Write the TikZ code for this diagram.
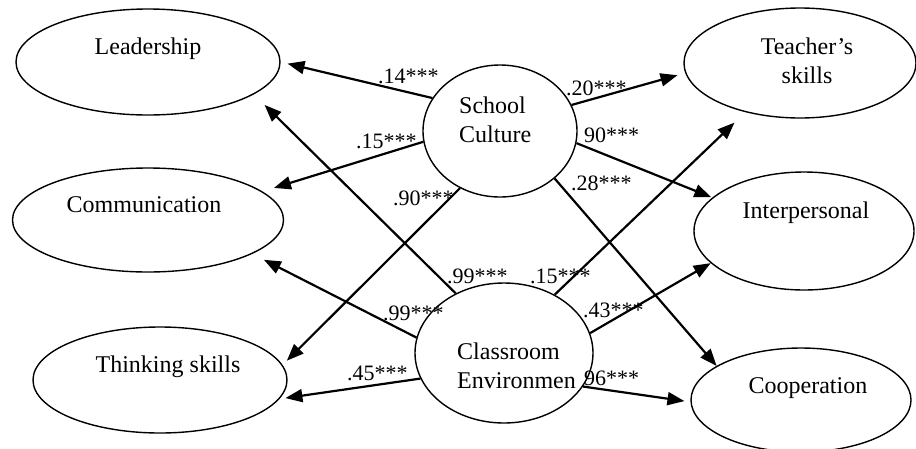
\documentclass[tikz,border=0pt]{standalone}
\usepackage{fontspec}
\setmainfont{Liberation Serif}
\usepackage{tikz}
\usetikzlibrary{arrows.meta,shapes.geometric}

\begin{document}
\begin{tikzpicture}[x=1pt, y=-1pt,
    latent/.style={draw, ellipse, line width=1.4pt, inner sep=0pt},
    vartext/.style={inner sep=0pt, font=\fontsize{24}{28.5}\selectfont},
    coef/.style={anchor=base west, inner sep=0pt, font=\fontsize{22}{24}\selectfont},
    effect/.style={-{Triangle[length=17pt,width=13pt]}, line width=2.2pt}]
  \useasboundingbox (0,0) rectangle (916,448);
  % outcomes, left column
  \node (lead) [latent, minimum width=264pt, minimum height=106pt] at (148,62) {};
  \node (comm) [latent, minimum width=271pt, minimum height=104pt] at (148,220) {};
  \node (think) [latent, minimum width=254pt, minimum height=106pt] at (160,380) {};
  % outcomes, right column
  \node (teach) [latent, minimum width=232pt, minimum height=110pt] at (800,63) {};
  \node (inter) [latent, minimum width=220pt, minimum height=118pt] at (804,231) {};
  \node (coop) [latent, minimum width=220pt, minimum height=104pt] at (801,400) {};
  % predictors
  \node (sc) [latent, minimum width=154pt, minimum height=132pt] at (500,131) {};
  \node (ce) [latent, minimum width=178pt, minimum height=140pt] at (504,353) {};

  \node (lead-t) [vartext, anchor=base] at (148,54) {Leadership};
  \node (comm-t) [vartext, anchor=base] at (144,212) {Communication};
  \node (think-t) [vartext, anchor=base] at (168,372) {Thinking skills};
  \node (teach-t) [vartext, align=center] at (807,61) {Teacher’s\\skills};
  \node (inter-t) [vartext, anchor=base] at (806,218) {Interpersonal};
  \node (coop-t) [vartext, anchor=base] at (808,393) {Cooperation};
  \node (sc-t) [vartext, align=left, anchor=west] at (459,120) {School\\Culture};
  \node (ce-t) [vartext, align=left, anchor=west] at (457,366) {Classroom\\Environmen};

  % school culture paths
  \draw [effect, shorten >=7pt] (sc.154) -- (lead.0);
  \draw [effect, shorten >=12pt] (sc.188) -- (comm.14);
  \draw [effect, shorten >=6pt] (sc.235) -- (think.7);
  \draw [effect, shorten >=8pt] (sc.20) -- (teach.185);
  \draw [effect, shorten >=1pt] (sc.-9) -- (inter.160);
  \draw [effect] (sc.319) -- (coop.158);
  % classroom environment paths
  \draw [effect, shorten >=15pt] (ce.129) -- (lead.343);
  \draw [effect, shorten >=13pt] (ce.170) -- (comm.342);
  \draw [effect, shorten >=6pt] (ce.197) -- (think.351);
  \draw [effect, shorten >=15pt] (ce.49) -- (teach.222);
  \draw [effect] (ce.13) -- (inter.199);
  \draw [effect, shorten >=6pt] (ce.337) -- (coop.181);

  \node (w-sc-lead) [coef] at (378,83) {.14***};
  \node (w-sc-comm) [coef] at (356,148) {.15***};
  \node (w-sc-think) [coef] at (393,205) {.90***};
  \node (w-sc-teach) [coef] at (566,95) {.20***};
  \node (w-sc-inter) [coef] at (584,142) {90***};
  \node (w-sc-coop) [coef] at (571,190) {.28***};
  \node (w-ce-lead) [coef] at (447,283) {.99***};
  \node (w-ce-comm) [coef] at (383,320) {.99***};
  \node (w-ce-think) [coef] at (347,380) {.45***};
  \node (w-ce-teach) [coef] at (530,283) {.15***};
  \node (w-ce-inter) [coef] at (583,317) {.43***};
  \node (w-ce-coop) [coef] at (584,385) {96***};
\end{tikzpicture}
\end{document}
